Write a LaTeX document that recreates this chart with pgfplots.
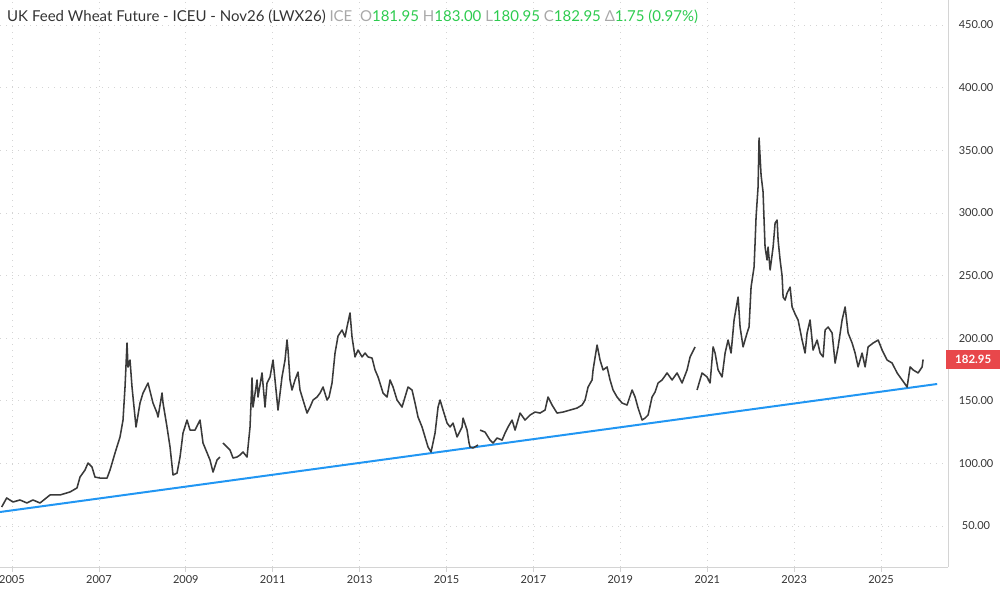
\documentclass[border=0pt]{standalone}
\usepackage{fontspec}
\setmainfont{Lato}
\usepackage{pgfplots}
\pgfplotsset{compat=1.18}
\definecolor{pricec}{HTML}{3A3A3A}
\definecolor{trend}{HTML}{2196F3}
\definecolor{upg}{HTML}{2DCB4F}
\definecolor{lgray}{HTML}{A8A8A8}
\definecolor{txt}{HTML}{333333}
\definecolor{redbox}{HTML}{E8474B}
\definecolor{gridc}{HTML}{D4D4D4}
\begin{document}
\begin{tikzpicture}
\useasboundingbox (0pt,-34pt) rectangle (1000pt,567pt);
\begin{axis}[
  scale only axis, width=948pt, height=567pt,
  at={(0pt,0pt)}, anchor=south west,
  xmin=2004.724, xmax=2026.54, ymin=17.3, ymax=469.96,
  axis x line*=bottom, axis y line*=right,
  axis line style={draw=gridc, line width=0.8pt, -},
  xtick={2005,2007,2009,2011,2013,2015,2017,2019,2021,2023,2025},
  xticklabels={2005,2007,2009,2011,2013,2015,2017,2019,2021,2023,2025},
  ytick={50,100,150,200,250,300,350,400,450},
  yticklabels={50.00,100.00,150.00,200.00,250.00,300.00,350.00,400.00,450.00},
  grid=major,
  major grid style={draw=gridc, line width=0.7pt, dash pattern=on 1.2pt off 4.8pt},
  xtick align=outside, major tick length=5pt,
  xtick style={draw=gridc, line width=0.7pt},
  ytick style={draw=none},
  xticklabel style={font=\fontsize{11}{13}\selectfont, text=txt},
  yticklabel style={font=\fontsize{11}{13}\selectfont, text=txt, anchor=center, xshift=28pt},
  unbounded coords=jump,
]
\addplot[trend, line width=2pt] coordinates {(2004.724,61.2) (2026.29,163.4)};
\addplot[pricec, line width=1.55pt, line join=round] coordinates {
(2004.763,65.2) (2004.878,72.4) (2005.023,69.2) (2005.184,70.8) (2005.345,68.4) (2005.483,70.8) (2005.645,68.4) (2005.875,74.8) (2006.105,74.8) (2006.335,77.2) (2006.496,80.4) (2006.565,89.1) (2006.680,94.7) (2006.749,100.3) (2006.841,97.1) (2006.910,89.1) (2007.026,88.3) (2007.187,88.3) (2007.256,94.7) (2007.371,108.3) (2007.486,121.1) (2007.555,134.6) (2007.601,161.0) (2007.647,196.1) (2007.670,176.9) (2007.716,182.5) (2007.762,161.0) (2007.785,153.0) (2007.854,129.1) (2007.946,148.2) (2008.015,156.2) (2008.130,164.2) (2008.245,148.2) (2008.338,140.2) (2008.361,137.0) (2008.453,156.2) (2008.476,148.2) (2008.567,129.1) (2008.637,113.1) (2008.706,90.7) (2008.798,92.3) (2008.867,105.1) (2008.936,124.3) (2009.028,134.6) (2009.097,126.6) (2009.212,126.6) (2009.327,134.6) (2009.396,116.3) (2009.557,102.7) (2009.626,93.1) (2009.718,102.7) (2009.787,105.1)
(2009.82,nan)
(2009.856,116.3) (2010.017,110.7) (2010.087,104.3) (2010.179,105.1) (2010.248,106.7) (2010.317,109.1) (2010.409,105.1) (2010.478,129.1) (2010.524,168.2) (2010.547,145.0) (2010.639,166.6) (2010.662,153.0) (2010.754,172.2) (2010.823,145.0) (2010.869,164.2) (2010.938,169.0) (2011.007,182.5) (2011.099,150.6) (2011.122,142.6) (2011.214,169.0) (2011.283,182.5) (2011.329,198.5) (2011.352,190.5) (2011.398,166.6) (2011.444,158.6) (2011.513,166.6) (2011.582,172.9) (2011.628,158.6) (2011.698,150.6) (2011.790,140.2) (2011.859,145.0) (2011.928,150.6) (2012.020,153.0) (2012.089,156.2) (2012.158,161.0) (2012.250,150.6) (2012.296,153.0) (2012.365,164.2) (2012.434,188.1) (2012.503,201.7) (2012.595,206.5) (2012.664,200.9) (2012.710,209.0) (2012.779,220.1) (2012.825,200.9) (2012.894,185.0) (2012.963,190.5) (2013.056,185.0) (2013.125,188.1) (2013.194,185.0) (2013.286,184.1) (2013.355,174.6) (2013.424,169.0) (2013.539,156.2) (2013.631,153.0) (2013.700,166.6) (2013.769,161.0) (2013.861,150.6) (2013.976,145.0) (2014.045,153.0) (2014.114,161.0) (2014.206,158.6) (2014.275,148.2) (2014.344,137.0) (2014.436,129.1) (2014.505,121.1) (2014.574,113.1) (2014.644,109.1) (2014.736,124.3) (2014.805,145.0) (2014.851,150.6) (2014.920,142.6) (2015.012,132.2) (2015.081,129.1) (2015.150,132.2) (2015.242,121.1) (2015.357,129.1) (2015.380,136.2) (2015.472,126.6) (2015.518,116.3) (2015.541,113.1) (2015.610,112.3) (2015.725,114.7)
(2015.75,nan)
(2015.771,126.6) (2015.886,125.0) (2016.001,118.6) (2016.071,116.3) (2016.163,120.3) (2016.278,118.6) (2016.347,124.3) (2016.416,129.1) (2016.508,134.6) (2016.577,126.6) (2016.692,140.2) (2016.807,134.6) (2016.922,138.6) (2017.037,141.0) (2017.152,140.2) (2017.267,142.6) (2017.336,153.0) (2017.428,146.6) (2017.543,140.2) (2017.681,141.0) (2017.843,142.6) (2018.004,144.2) (2018.119,146.6) (2018.188,150.6) (2018.257,161.0) (2018.349,166.6) (2018.372,174.6) (2018.464,194.5) (2018.533,182.5) (2018.602,174.6) (2018.694,177.0) (2018.763,166.6) (2018.832,158.6) (2018.924,153.0) (2019.039,148.2) (2019.154,146.6) (2019.270,158.6) (2019.339,153.0) (2019.408,144.2) (2019.500,134.6) (2019.569,136.2) (2019.638,138.6) (2019.730,153.0) (2019.799,157.0) (2019.868,164.2) (2019.960,166.6) (2020.075,172.2) (2020.190,166.6) (2020.305,172.2) (2020.420,164.2) (2020.535,174.6) (2020.604,184.9) (2020.719,193.0)
(2020.74,nan)
(2020.765,158.6) (2020.880,172.2) (2020.996,169.0) (2021.065,164.2) (2021.134,193.0) (2021.180,188.1) (2021.249,174.6) (2021.341,169.0) (2021.410,188.1) (2021.479,198.5) (2021.548,188.1) (2021.617,214.5) (2021.709,232.8) (2021.755,208.9) (2021.824,193.0) (2021.916,204.1) (2021.962,209.0) (2022.008,240.8) (2022.077,256.8) (2022.100,275.9) (2022.123,296.7) (2022.169,320.7) (2022.192,359.8) (2022.238,330.2) (2022.284,316.7) (2022.307,294.3) (2022.330,272.7) (2022.376,262.4) (2022.399,272.7) (2022.446,254.4) (2022.515,272.7) (2022.561,291.9) (2022.607,294.3) (2022.630,278.3) (2022.676,262.4) (2022.722,249.6) (2022.745,232.8) (2022.791,230.4) (2022.837,236.0) (2022.906,240.8) (2022.952,224.9) (2023.021,219.3) (2023.090,214.5) (2023.182,198.5) (2023.251,188.1) (2023.297,204.1) (2023.366,214.5) (2023.435,190.5) (2023.528,198.5) (2023.597,188.1) (2023.666,185.0) (2023.712,206.5) (2023.781,208.9) (2023.873,204.1) (2023.942,180.1) (2024.011,193.0) (2024.103,214.5) (2024.172,224.9) (2024.241,204.1) (2024.333,196.1) (2024.402,188.1) (2024.471,177.0) (2024.563,188.1) (2024.632,177.0) (2024.701,193.0) (2024.817,196.1) (2024.932,198.5) (2025.024,190.5) (2025.139,182.5) (2025.254,180.1) (2025.369,172.2) (2025.484,166.6) (2025.599,161.0) (2025.668,177.0) (2025.737,174.6) (2025.852,172.2) (2025.944,177.0) (2025.967,182.95)
};
\end{axis}
\node[anchor=base west, inner sep=0pt, font=\fontsize{15}{17}\selectfont] at (7pt,545pt)
 {\textcolor{txt}{UK Feed Wheat Future - ICEU - Nov26 (LWX26)} \textcolor{lgray}{ICE}\ \ \textcolor{lgray}{O}\textcolor{upg}{181.95} \textcolor{lgray}{H}\textcolor{upg}{183.00} \textcolor{lgray}{L}\textcolor{upg}{180.95} \textcolor{lgray}{C}\textcolor{upg}{182.95} \textcolor{lgray}{Δ}\textcolor{upg}{1.75 (0.97\%)}};
\node[anchor=west, fill=redbox, text=white, inner sep=0pt, minimum width=54pt, minimum height=19pt, font=\fontsize{11.5}{13}\selectfont\bfseries] at (946pt,207.5pt) {182.95};
\end{tikzpicture}
\end{document}
